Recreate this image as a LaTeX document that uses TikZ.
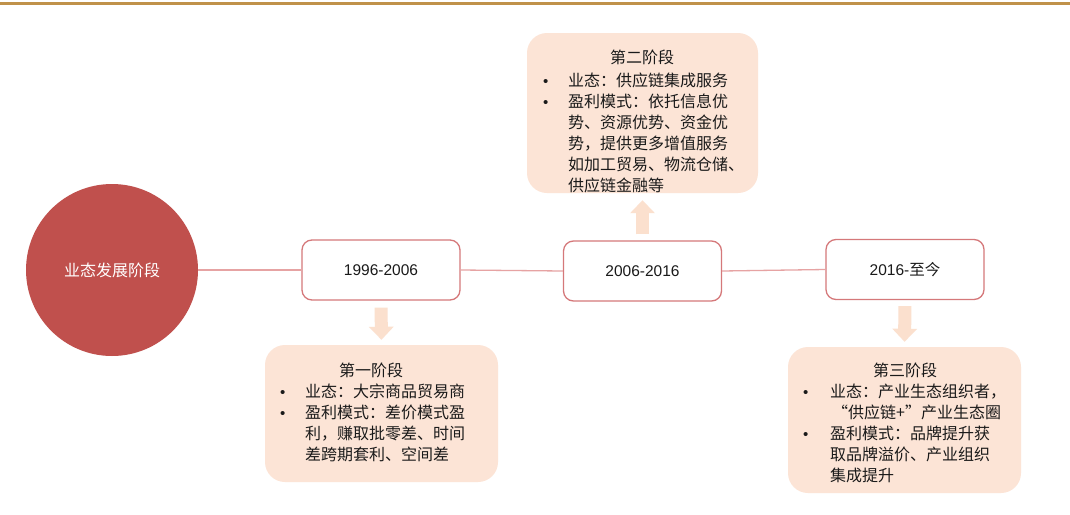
\documentclass[tikz,border=0pt]{standalone}
\usepackage{fontspec}
\setmainfont{Noto Sans CJK SC}
\newfontfamily\cjk{Noto Sans CJK SC}
\newfontfamily\lat{Liberation Sans}
\usetikzlibrary{arrows.meta}
\definecolor{topline}{HTML}{C0924A}
\definecolor{circred}{HTML}{C0504D}
\definecolor{boxedge}{HTML}{D5787A}
\definecolor{linkpink}{HTML}{E6A3A3}
\definecolor{peach}{HTML}{FCE4D6}
\definecolor{arrowpeach}{HTML}{FBE0CE}
\definecolor{txt}{HTML}{1A1A1A}
\tikzset{
  datebox/.style={draw=boxedge, line width=1.3pt, fill=white, rounded corners=10pt,
    minimum width=158pt, minimum height=60pt, inner sep=0pt,
    font=\lat\fontsize{15.5}{18}\selectfont, text=txt},
  stagebox/.style={fill=peach, rounded corners=20pt, inner sep=0pt},
  link/.style={draw=linkpink, line width=1.3pt},
  blockarrow/.style={draw=arrowpeach, line width=13pt,
    -{Triangle[width=24pt,length=13pt]}},
  stagetitle/.style={anchor=base, inner sep=0pt, text=txt,
    font=\fontsize{16}{21}\selectfont},
  stagetext/.style={anchor=base west, inner sep=0pt, text=txt,
    font=\fontsize{16}{21}\selectfont, align=left},
}
\newcommand{\bul}{\makebox[0pt][l]{{\lat\fontsize{15}{15}\selectfont •}}}
\begin{document}
\begin{tikzpicture}[x=1pt,y=-1pt]
\useasboundingbox (0,0) rectangle (1070,514);
\fill[white] (0,0) rectangle (1070,514);
\draw[topline, line width=2.2pt] (0,3.5) -- (1070,3.5);

% main circle
\node[circle, fill=circred, minimum size=172pt, inner sep=0pt, text=white,
  font=\fontsize{16}{18}\selectfont] (c) at (112,270) {业态发展阶段};

% date boxes
\node[datebox] (b1) at (381,270) {1996-2006};
\node[datebox] (b2) at (642.5,271) {2006-2016};
\node[datebox] (b3) at (905,269.5) {2016-{\cjk 至今}};

\draw[link] (c.east) -- (b1.west);
\draw[link] (b1.east) -- (b2.west);
\draw[link] (b2.east) -- (b3.west);

% stage boxes
\node[stagebox, minimum width=233pt, minimum height=137pt] (s1) at (381.5,413.5) {};
\node[stagebox, minimum width=231pt, minimum height=160pt] (s2) at (642.5,113) {};
\node[stagebox, minimum width=233pt, minimum height=146pt] (s3) at (904.5,420) {};

\draw[blockarrow, shorten <=7pt, shorten >=5pt] (b1.south) -- (s1.north);
\draw[blockarrow, shorten <=6pt, shorten >=7pt] (b2.north) -- (s2.south);
\draw[blockarrow, shorten <=6pt, shorten >=5pt] (b3.south) -- (s3.north);

% stage 1 text
\node[stagetitle] (t1) at (371,376) {第一阶段};
\node[stagetext] (l1) at (280,397) {%
\begin{tabular}[t]{@{}p{25pt}@{}l@{}}
\bul & 业态：大宗商品贸易商\\
\bul & 盈利模式：差价模式盈\\
 & 利，赚取批零差、时间\\
 & 差跨期套利、空间差
\end{tabular}};

% stage 2 text
\node[stagetitle] (t2) at (642,63) {第二阶段};
\node[stagetext] (l2) at (543,86) {%
\begin{tabular}[t]{@{}p{25pt}@{}l@{}}
\bul & 业态：供应链集成服务\\
\bul & 盈利模式：依托信息优\\
 & 势、资源优势、资金优\\
 & 势，提供更多增值服务\\
 & 如加工贸易、物流仓储、\\
 & 供应链金融等
\end{tabular}};

% stage 3 text
\node[stagetitle] (t3) at (905,376) {第三阶段};
\node[stagetext] (l3) at (803,397) {%
\begin{tabular}[t]{@{}p{27pt}@{}l@{}}
\bul & 业态：产业生态组织者，\\
 & \hspace{2pt}“供应链+”产业生态圈\\
\bul & 盈利模式：品牌提升获\\
 & 取品牌溢价、产业组织\\
 & 集成提升
\end{tabular}};
\end{tikzpicture}
\end{document}
